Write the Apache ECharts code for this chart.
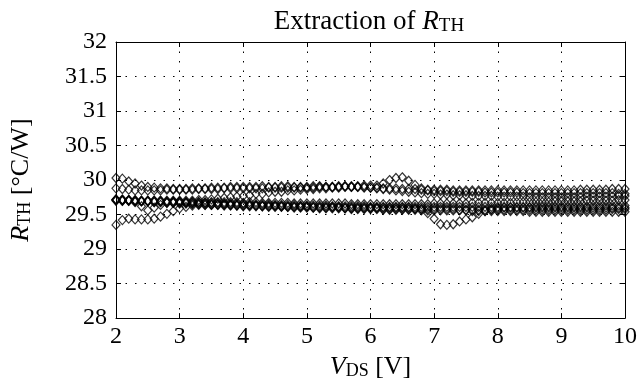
<!DOCTYPE html>
<html>
<head>
<meta charset="utf-8">
<script src="https://cdn.jsdelivr.net/npm/echarts@6/dist/echarts.min.js"></script>
<style>html,body{margin:0;padding:0;background:#fff}#c{width:640px;height:385px}</style>
</head>
<body>
<div id="c"></div>
<script>
// V_DS sample points [V]
var vds = [
 2.0,2.1,2.2,2.3,2.4,2.5,2.6,2.7,2.8,2.9,
 3.0,3.1,3.2,3.3,3.4,3.5,3.6,3.7,3.8,3.9,
 4.0,4.1,4.2,4.3,4.4,4.5,4.6,4.7,4.8,4.9,
 5.0,5.1,5.2,5.3,5.4,5.5,5.6,5.7,5.8,5.9,
 6.0,6.1,6.2,6.3,6.4,6.5,6.6,6.7,6.8,6.9,
 7.0,7.1,7.2,7.3,7.4,7.5,7.6,7.7,7.8,7.9,
 8.0,8.1,8.2,8.3,8.4,8.5,8.6,8.7,8.8,8.9,
 9.0,9.1,9.2,9.3,9.4,9.5,9.6,9.7,9.8,9.9,
 10.0];

var rth1 = [
 30.03,30.02,29.98,29.95,29.92,29.90,29.89,29.88,29.88,29.87,
 29.87,29.87,29.88,29.88,29.88,29.89,29.89,29.89,29.90,29.90,
 29.90,29.90,29.90,29.91,29.90,29.90,29.91,29.91,29.90,29.90,
 29.90,29.91,29.91,29.90,29.90,29.91,29.91,29.90,29.90,29.90,
 29.89,29.89,29.88,29.88,29.88,29.87,29.87,29.87,29.86,29.86,
 29.86,29.86,29.86,29.85,29.85,29.85,29.85,29.85,29.85,29.85,
 29.85,29.85,29.85,29.85,29.85,29.85,29.85,29.85,29.85,29.85,
 29.85,29.85,29.85,29.86,29.86,29.86,29.86,29.86,29.87,29.87,
 29.87];
var rth2 = [
 29.88,29.87,29.86,29.85,29.85,29.85,29.85,29.85,29.86,29.86,
 29.86,29.86,29.86,29.87,29.87,29.87,29.87,29.88,29.88,29.88,
 29.88,29.88,29.88,29.88,29.89,29.89,29.89,29.89,29.89,29.89,
 29.89,29.89,29.90,29.90,29.90,29.90,29.91,29.91,29.91,29.92,
 29.92,29.92,29.95,30.00,30.03,30.04,29.99,29.93,29.88,29.85,
 29.84,29.84,29.84,29.83,29.83,29.83,29.83,29.83,29.82,29.82,
 29.82,29.82,29.82,29.82,29.81,29.81,29.81,29.81,29.81,29.81,
 29.81,29.81,29.81,29.81,29.81,29.81,29.81,29.81,29.81,29.80,
 29.80];
var rth3 = [
 29.72,29.71,29.71,29.70,29.70,29.70,29.70,29.70,29.70,29.70,
 29.70,29.70,29.70,29.71,29.71,29.72,29.73,29.74,29.75,29.76,
 29.77,29.78,29.80,29.80,29.82,29.83,29.83,29.85,29.85,29.86,
 29.87,29.87,29.88,29.88,29.89,29.89,29.90,29.90,29.90,29.89,
 29.89,29.88,29.87,29.86,29.85,29.84,29.83,29.82,29.81,29.80,
 29.80,29.79,29.79,29.78,29.78,29.78,29.77,29.77,29.77,29.77,
 29.76,29.76,29.76,29.76,29.76,29.75,29.75,29.75,29.75,29.75,
 29.75,29.75,29.75,29.75,29.76,29.76,29.76,29.76,29.76,29.77,
 29.77];
var rth4 = [
 29.71,29.71,29.71,29.71,29.70,29.70,29.70,29.70,29.69,29.69,
 29.69,29.68,29.68,29.68,29.67,29.67,29.67,29.66,29.66,29.66,
 29.66,29.65,29.65,29.65,29.65,29.64,29.64,29.64,29.64,29.63,
 29.63,29.63,29.63,29.63,29.62,29.62,29.62,29.62,29.62,29.62,
 29.61,29.61,29.61,29.61,29.61,29.61,29.61,29.61,29.61,29.61,
 29.61,29.61,29.61,29.61,29.61,29.61,29.61,29.61,29.61,29.61,
 29.61,29.61,29.61,29.61,29.61,29.61,29.62,29.62,29.62,29.62,
 29.62,29.62,29.62,29.62,29.62,29.63,29.63,29.63,29.63,29.63,
 29.63];
var rth5 = [
 29.72,29.72,29.71,29.68,29.62,29.56,29.60,29.64,29.67,29.68,
 29.68,29.68,29.68,29.68,29.68,29.68,29.68,29.68,29.68,29.68,
 29.67,29.68,29.68,29.67,29.67,29.67,29.67,29.67,29.66,29.66,
 29.66,29.66,29.66,29.66,29.66,29.66,29.66,29.65,29.65,29.65,
 29.65,29.65,29.65,29.65,29.65,29.65,29.65,29.65,29.65,29.65,
 29.66,29.66,29.66,29.66,29.66,29.66,29.67,29.67,29.67,29.67,
 29.67,29.67,29.67,29.68,29.68,29.68,29.68,29.68,29.68,29.69,
 29.69,29.69,29.69,29.69,29.70,29.70,29.70,29.70,29.70,29.71,
 29.71];
var rth6 = [
 29.35,29.42,29.44,29.43,29.43,29.43,29.44,29.47,29.51,29.55,
 29.59,29.61,29.63,29.64,29.64,29.64,29.64,29.64,29.64,29.63,
 29.63,29.63,29.63,29.62,29.62,29.62,29.62,29.61,29.61,29.61,
 29.61,29.60,29.60,29.60,29.60,29.60,29.59,29.59,29.59,29.59,
 29.59,29.59,29.58,29.58,29.58,29.58,29.58,29.58,29.58,29.58,
 29.58,29.58,29.58,29.58,29.57,29.57,29.57,29.57,29.57,29.57,
 29.57,29.57,29.57,29.57,29.57,29.57,29.57,29.57,29.57,29.57,
 29.57,29.57,29.57,29.57,29.57,29.57,29.57,29.57,29.58,29.58,
 29.58];
var rth7 = [
 29.70,29.70,29.70,29.69,29.69,29.69,29.68,29.68,29.68,29.67,
 29.67,29.67,29.66,29.66,29.66,29.65,29.65,29.65,29.64,29.64,
 29.64,29.64,29.63,29.63,29.63,29.63,29.62,29.62,29.62,29.62,
 29.62,29.61,29.61,29.61,29.61,29.61,29.60,29.60,29.60,29.60,
 29.60,29.60,29.60,29.60,29.60,29.60,29.60,29.59,29.58,29.52,
 29.44,29.36,29.35,29.36,29.40,29.43,29.46,29.51,29.55,29.58,
 29.59,29.60,29.60,29.60,29.60,29.60,29.60,29.60,29.60,29.60,
 29.60,29.60,29.60,29.60,29.60,29.60,29.60,29.60,29.60,29.60,
 29.60];
var rth8 = [
 29.71,29.70,29.70,29.70,29.69,29.69,29.68,29.68,29.67,29.67,
 29.66,29.66,29.65,29.65,29.64,29.64,29.64,29.63,29.63,29.63,
 29.62,29.62,29.62,29.62,29.61,29.61,29.61,29.61,29.60,29.60,
 29.60,29.60,29.59,29.59,29.59,29.59,29.59,29.58,29.58,29.58,
 29.58,29.58,29.57,29.57,29.57,29.57,29.57,29.57,29.56,29.56,
 29.56,29.56,29.56,29.56,29.56,29.56,29.55,29.55,29.55,29.55,
 29.55,29.55,29.55,29.55,29.55,29.54,29.54,29.54,29.54,29.54,
 29.54,29.54,29.54,29.54,29.54,29.54,29.54,29.54,29.54,29.54,
 29.54];

var allRth = [rth1, rth2, rth3, rth4, rth5, rth6, rth7, rth8];

var FONT = "'Liberation Serif','Times New Roman',serif";

function makeRich(fs, sfs, drop) {
  return {
    n: {fontFamily: FONT, fontSize: fs, fontWeight: 'normal', color: '#000', verticalAlign: 'top', lineHeight: fs + 2},
    i: {fontFamily: FONT, fontSize: fs, fontWeight: 'normal', fontStyle: 'italic', color: '#000', verticalAlign: 'top', lineHeight: fs + 2},
    s: {fontFamily: FONT, fontSize: sfs, fontWeight: 'normal', color: '#000', verticalAlign: 'top', lineHeight: sfs + 3, padding: [drop, 0, 0, 0]}
  };
}

var chart = echarts.init(document.getElementById('c'), null, {renderer: 'canvas'});

var gridLine = {show: true, lineStyle: {color: '#000', width: 1, type: [1.5, 8]}};
var axisFont = {fontFamily: FONT, fontSize: 24, color: '#000'};

var series = allRth.map(function (ys, k) {
  return {
    type: 'scatter',
    name: 'S' + (k + 1),
    xAxisIndex: 0, yAxisIndex: 0,
    symbol: 'diamond',
    symbolSize: [8, 9],
    itemStyle: {color: 'rgba(0,0,0,0)', borderColor: '#000', borderWidth: 1.2},
    emphasis: {disabled: true},
    silent: true,
    data: vds.map(function (x, i) { return [x, ys[i]]; })
  };
});

chart.setOption({
  animation: false,
  backgroundColor: '#fff',
  title: {
    text: '{n|Extraction of }{i|R}{s|TH}',
    left: 364, top: 3, textAlign: 'center',
    textStyle: {fontWeight: 'normal', rich: makeRich(27, 19, 9)}
  },
  grid: {left: 115, right: 11, top: 42, bottom: 62, containLabel: false},
  xAxis: [{
    type: 'value', min: 2, max: 10, interval: 1, position: 'bottom',
    axisLine: {show: true, onZero: false, lineStyle: {color: '#000', width: 1}},
    axisTick: {show: true, inside: true, length: 5, lineStyle: {color: '#000'}},
    axisLabel: Object.assign({margin: 7}, axisFont),
    splitLine: gridLine,
    name: '{i|V}{s|DS}{n| [V]}',
    nameLocation: 'middle', nameGap: 28,
    nameTextStyle: {rich: makeRich(26, 18, 8)}
  }, {
    type: 'value', min: 2, max: 10, interval: 1, position: 'top',
    axisLine: {show: true, onZero: false, lineStyle: {color: '#000', width: 1}},
    axisTick: {show: true, inside: true, length: 5, lineStyle: {color: '#000'}},
    axisLabel: {show: false}, splitLine: {show: false}
  }],
  yAxis: [{
    type: 'value', min: 28, max: 32, interval: 0.5, position: 'left',
    axisLine: {show: true, onZero: false, lineStyle: {color: '#000', width: 1}},
    axisTick: {show: true, inside: true, length: 5, lineStyle: {color: '#000'}},
    axisLabel: Object.assign({margin: 9}, axisFont),
    splitLine: gridLine,
    name: '{i|R}{s|TH}{n| [°C/W]}',
    nameLocation: 'middle', nameRotate: 90, nameGap: 80,
    nameTextStyle: {rich: makeRich(26, 18, 8)}
  }, {
    type: 'value', min: 28, max: 32, interval: 0.5, position: 'right',
    axisLine: {show: true, onZero: false, lineStyle: {color: '#000', width: 1}},
    axisTick: {show: true, inside: true, length: 5, lineStyle: {color: '#000'}},
    axisLabel: {show: false}, splitLine: {show: false}
  }],
  series: series
});
</script>
</body>
</html>
